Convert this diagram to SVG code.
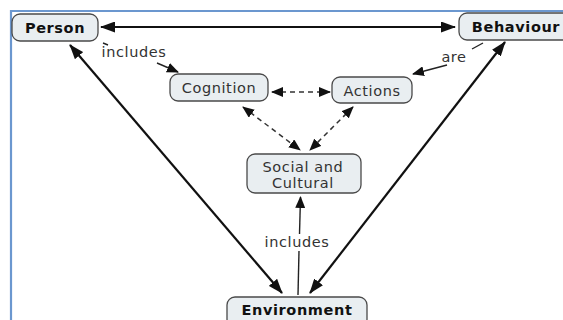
<svg xmlns="http://www.w3.org/2000/svg" width="563" height="320" viewBox="0 0 563 320">
<style>
.box{fill:#e9eef1;stroke:#4a4a4a;stroke-width:1.3}
.t{font-family:"DejaVu Sans",sans-serif;font-size:14.5px;letter-spacing:0.6px;fill:#333;text-anchor:middle}
.b{font-weight:bold;fill:#111}
.solid{fill:none;stroke:#111;stroke-width:2.2}
.thin{fill:none;stroke:#222;stroke-width:1.4}
.dash{fill:none;stroke:#333;stroke-width:1.5;stroke-dasharray:5 4}
</style>
<defs>
<marker id="ah" viewBox="0 0 15 11" refX="14" refY="5.5" markerWidth="15" markerHeight="11" markerUnits="userSpaceOnUse" orient="auto-start-reverse">
<path d="M0,0 L15,5.5 L0,11 z" fill="#111"/>
</marker>
<marker id="ahs" viewBox="0 0 12 10" refX="11" refY="5" markerWidth="12" markerHeight="10" markerUnits="userSpaceOnUse" orient="auto-start-reverse">
<path d="M0,0 L12,5 L0,10 z" fill="#111"/>
</marker>
</defs>
<rect width="563" height="320" fill="#fff"/>
<g id="frame">
<path d="M11,320 V11 H563" fill="none" stroke="#6b97cf" stroke-width="2.2"/>
</g>
<g id="connectors">
<line class="solid" x1="101" y1="27" x2="455" y2="27" marker-start="url(#ah)" marker-end="url(#ah)"/>
<line class="solid" x1="70" y1="45" x2="282" y2="293" marker-start="url(#ah)" marker-end="url(#ah)"/>
<line class="solid" x1="505" y1="42" x2="310" y2="293" marker-start="url(#ah)" marker-end="url(#ah)"/>
<line class="dash" x1="272" y1="92" x2="330" y2="92" marker-start="url(#ahs)" marker-end="url(#ahs)"/>
<line class="dash" x1="243" y1="107" x2="300" y2="150" marker-start="url(#ahs)" marker-end="url(#ahs)"/>
<line class="dash" x1="353" y1="107" x2="310" y2="150" marker-start="url(#ahs)" marker-end="url(#ahs)"/>
<line class="thin" x1="103" y1="43" x2="108" y2="45"/>
<line class="thin" x1="157" y1="63" x2="178" y2="72" marker-end="url(#ahs)"/>
<line class="thin" x1="483" y1="43" x2="472" y2="49"/>
<line class="thin" x1="447" y1="65" x2="413" y2="74" marker-end="url(#ahs)"/>
<line class="thin" x1="298" y1="295" x2="299" y2="251"/>
<line class="thin" x1="299.5" y1="234" x2="300.5" y2="197" marker-end="url(#ahs)"/>
<text class="t" x="134" y="57">includes</text>
<text class="t" x="454" y="62">are</text>
<text class="t" x="297" y="247">includes</text>
</g>
<g id="person">
<rect class="box" x="12" y="14" width="86" height="27" rx="8"/>
<text class="t b" x="55" y="33">Person</text>
</g>
<g id="behaviour">
<rect class="box" x="459" y="13" width="120" height="27" rx="8"/>
<text class="t b" x="516" y="32">Behaviour</text>
</g>
<g id="cognition">
<rect class="box" x="170" y="74" width="98" height="27" rx="8"/>
<text class="t" x="219" y="93">Cognition</text>
</g>
<g id="actions">
<rect class="box" x="332" y="77" width="80" height="26" rx="8"/>
<text class="t" x="372" y="96">Actions</text>
</g>
<g id="social">
<rect class="box" x="247" y="154" width="114" height="39" rx="8"/>
<text class="t" x="303" y="172">Social and</text>
<text class="t" x="303" y="188">Cultural</text>
</g>
<g id="environment">
<rect class="box" x="227" y="297" width="140" height="30" rx="8"/>
<text class="t b" x="297" y="315">Environment</text>
</g>
</svg>
